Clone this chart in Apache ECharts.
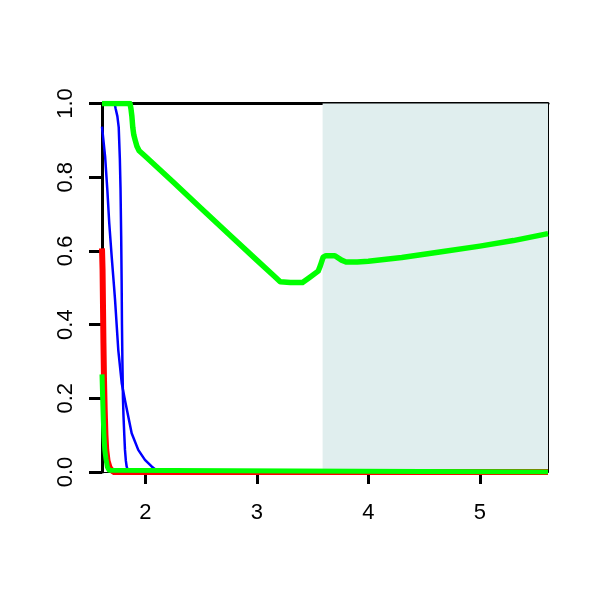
<!DOCTYPE html>
<html><head><meta charset="utf-8">
<script src="https://cdn.jsdelivr.net/npm/echarts@6/dist/echarts.min.js"></script>
<style>html,body{margin:0;padding:0;background:#fff}#c{width:600px;height:600px}</style>
</head><body><div id="c"></div>
<script>
const xTicks = [2, 3, 4, 5];
const yTicks = [0, 0.2, 0.4, 0.6, 0.8, 1.0];
const xMin = 1.612, xMax = 5.611;
const shadeStart = 3.59;

const greenMain = [[1.612,1.0],[1.863,1.0],[1.872,0.985],[1.880,0.965],[1.888,0.935],[1.897,0.915],[1.910,0.900],[1.925,0.884],[1.945,0.872],[2.0,0.857],[2.25,0.787],[2.5,0.716],[2.75,0.645],[3.0,0.575],[3.15,0.533],[3.21,0.516],[3.30,0.514],[3.41,0.514],[3.47,0.527],[3.55,0.545],[3.57,0.560],[3.595,0.583],[3.62,0.587],[3.70,0.587],[3.76,0.575],[3.80,0.570],[3.90,0.570],[4.0,0.572],[4.3,0.582],[4.64,0.597],[5.0,0.613],[5.3,0.628],[5.611,0.647]];
const blueSteep = [[1.612,1.0],[1.725,1.0],[1.735,0.985],[1.75,0.965],[1.762,0.935],[1.772,0.85],[1.778,0.77],[1.784,0.64],[1.788,0.52],[1.791,0.40],[1.795,0.30],[1.80,0.20],[1.805,0.15],[1.812,0.10],[1.818,0.06],[1.826,0.03],[1.833,0.015],[1.845,0.003],[1.86,0],[5.611,0]];
const blueGradual = [[1.612,0.937],[1.640,0.856],[1.660,0.765],[1.677,0.675],[1.699,0.584],[1.720,0.503],[1.729,0.467],[1.758,0.331],[1.789,0.241],[1.818,0.195],[1.848,0.150],[1.878,0.105],[1.937,0.060],[1.997,0.033],[2.057,0.015],[2.10,0.005],[2.13,0],[5.611,0]];
const redCurve = [[1.612,0.607],[1.617,0.55],[1.621,0.45],[1.625,0.35],[1.630,0.25],[1.636,0.17],[1.643,0.10],[1.650,0.06],[1.662,0.03],[1.680,0.012],[1.700,0.004],[1.720,0],[5.611,0]];
const greenSmall = [[1.612,0.265],[1.618,0.20],[1.624,0.14],[1.630,0.095],[1.637,0.06],[1.648,0.035],[1.660,0.014],[1.675,0.005],[1.690,0],[5.611,0]];

const FONT = 'Liberation Sans';
const chart = echarts.init(document.getElementById('c'), null, {renderer: 'canvas'});

function lineSeries(data, color, width, extra) {
  return Object.assign({
    type: 'line', data: data, showSymbol: false, symbol: 'none', smooth: false,
    animation: false, clip: true,
    lineStyle: {color: color, width: width, cap: 'butt', join: 'round'},
    xAxisIndex: 0, yAxisIndex: 0
  }, extra || {});
}

chart.setOption({
  animation: false,
  backgroundColor: '#ffffff',
  grid: {left: 102, right: 52, top: 103.5, bottom: 128, containLabel: false},
  xAxis: [{
    type: 'value', min: xMin, max: xMax, position: 'bottom', z: 3,
    axisLine: {show: true, onZero: false, lineStyle: {color: '#000', width: 1}},
    axisTick: {show: true, length: 12, lineStyle: {color: '#000', width: 3}, customValues: xTicks},
    axisLabel: {show: true, margin: 30, fontFamily: FONT, fontSize: 22, color: '#000', customValues: xTicks, formatter: v => String(v)},
    splitLine: {show: false}
  }, {
    type: 'value', min: xMin, max: xMax, position: 'top',
    axisLine: {show: true, onZero: false, lineStyle: {color: '#000', width: 3}},
    axisTick: {show: false}, axisLabel: {show: false}, splitLine: {show: false}
  }],
  yAxis: [{
    type: 'value', min: 0, max: 1, position: 'left',
    axisLine: {show: true, onZero: false, lineStyle: {color: '#000', width: 3}},
    axisTick: {show: true, length: 13, lineStyle: {color: '#000', width: 3}, customValues: yTicks},
    axisLabel: {show: true, rotate: 90, margin: 25, fontFamily: FONT, fontSize: 22, color: '#000', customValues: yTicks, formatter: v => v.toFixed(1)},
    splitLine: {show: false}
  }, {
    type: 'value', min: 0, max: 1, position: 'right',
    axisLine: {show: true, onZero: false, lineStyle: {color: '#000', width: 2}},
    axisTick: {show: false}, axisLabel: {show: false}, splitLine: {show: false}
  }],
  series: [
    lineSeries(blueGradual, '#0000ff', 2.5, {
      markArea: {
        silent: true, z: 1,
        itemStyle: {color: '#E0EEEE'},
        data: [[{xAxis: shadeStart, yAxis: 1}, {xAxis: xMax, yAxis: 0}]]
      }
    }),
    lineSeries(blueSteep, '#0000ff', 2.5),
    lineSeries(redCurve, '#ff0000', 6),
    lineSeries(greenSmall, '#00ff00', 5),
    lineSeries(greenMain, '#00ff00', 5.5)
  ]
});
</script>
</body></html>
